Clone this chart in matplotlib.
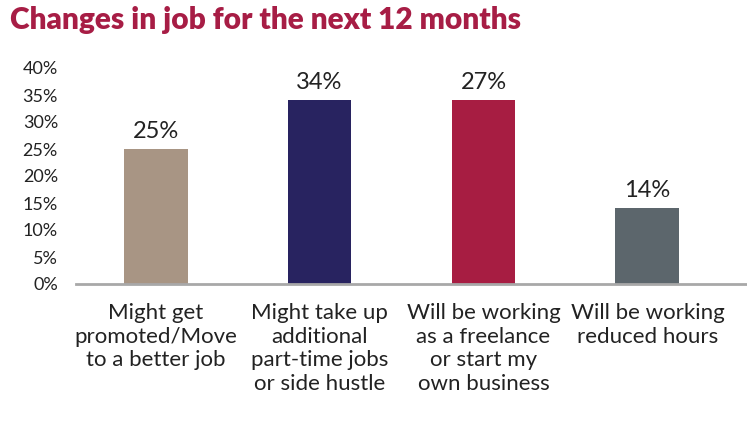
import matplotlib
matplotlib.use("Agg")
import matplotlib.pyplot as plt
import numpy as np

# values
categories = ["Might get\npromoted/Move\nto a better job",
              "Might take up\nadditional\npart-time jobs\nor side hustle",
              "Will be working\nas a freelance\nor start my\nown business",
              "Will be working\nreduced hours"]
bar_heights = [25, 34, 34, 14]          # drawn heights as shown
bar_labels = ["25%", "34%", "27%", "14%"]  # printed labels as shown
yticks = [0, 5, 10, 15, 20, 25, 30, 35, 40]
colors = ["#A89584", "#282360", "#A71D42", "#5C666C"]

plt.rcParams['font.family'] = ['Lato', 'DejaVu Sans']

fig = plt.figure(figsize=(7.47, 4.26), dpi=100)
ax = fig.add_axes([76/747, 1 - 284/426, 1 - 76/747, (284 - 68)/426])

x = np.arange(len(categories))
ax.bar(x, bar_heights, width=0.39, color=colors, zorder=2)
for xi, h, lab in zip(x, bar_heights, bar_labels):
    ax.text(xi, h + 1.3, lab, ha='center', va='bottom', fontsize=17, color='#222222')

ax.set_ylim(0, 40)
ax.set_xlim(-0.485, 3.607)
ax.set_yticks(yticks)
ax.set_yticklabels([f"{t}%" for t in yticks], fontsize=13, color='#222222')
ax.tick_params(axis='y', length=0, pad=13)
ax.set_xticks([])
for s in ['top', 'right', 'left']:
    ax.spines[s].set_visible(False)
ax.spines['bottom'].set_color('#A8A8A8')
ax.spines['bottom'].set_linewidth(2)

for xi, cat in zip(x, categories):
    ax.text(xi, -3.6, cat, ha='center', va='top', fontsize=16, color='#222222',
            linespacing=1.22)

fig.text(10/747, 1 - 20/426, "Changes in job for the next 12 months", ha='left', va='center',
         fontsize=21.5, fontweight='heavy', color='#A71D45')

fig.savefig("out.png", dpi=100)
